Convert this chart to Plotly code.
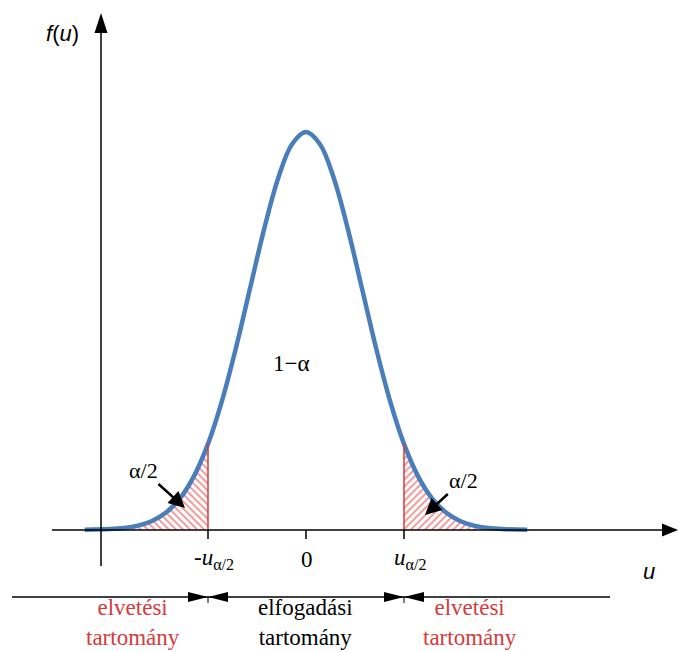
import plotly.graph_objects as go

# ---- data ----
U = [-3.95, -3.5, -3.25, -3.0, -2.75, -2.5, -2.25, -2.0, -1.75, -1.5, -1.25, -1.0,
     -0.75, -0.5, -0.25, 0.0, 0.25, 0.5, 0.75, 1.0, 1.25, 1.5, 1.75, 2.0, 2.25,
     2.5, 2.75, 3.0, 3.25, 3.5, 3.95]
DENSITY = [0.0002, 0.0009, 0.0020, 0.0044, 0.0091, 0.0175, 0.0317, 0.0540, 0.0863,
           0.1295, 0.1826, 0.2420, 0.3011, 0.3521, 0.3867, 0.3989, 0.3867, 0.3521,
           0.3011, 0.2420, 0.1826, 0.1295, 0.0863, 0.0540, 0.0317, 0.0175, 0.0091,
           0.0044, 0.0020, 0.0009, 0.0002]
U_CRIT = 1.75
TICK_POS = [-U_CRIT, 0.0, U_CRIT]
TICK_LABELS = ["-<i>u</i><sub>α/2</sub>", "0", "<i>u</i><sub>α/2</sub>"]
REGION_LABELS = ["elvetési<br>tartomány", "elfogadási<br>tartomány", "elvetési<br>tartomány"]
CENTER_LABEL = "1−α"
TAIL_LABEL = "α/2"

# ---- layout mapping (pixel helpers for decorations) ----
W, H = 678, 652
X0PX, XSCALE = 306.0, 56.0          # pixel of u=0, pixels per unit
Y0PX, YSCALE = 530.0, 997.7          # pixel of f=0, pixels per unit density


def px2x(px):
    return (px - X0PX) / XSCALE


def py2y(py):
    return (Y0PX - py) / YSCALE


BLUE = "#4a7ebb"
RED = "#d63a3a"
SERIF = "Liberation Serif"
SANS = "Liberation Sans"

fig = go.Figure()

# hatched tails
left_u = [u for u in U if u <= -U_CRIT]
left_f = [f for u, f in zip(U, DENSITY) if u <= -U_CRIT]
right_u = [u for u in U if u >= U_CRIT]
right_f = [f for u, f in zip(U, DENSITY) if u >= U_CRIT]
for xs, ys, shp in [(left_u, left_f, "\\"), (right_u, right_f, "/")]:
    fig.add_trace(go.Scatter(
        x=xs, y=ys, mode="lines", line=dict(width=0, shape="spline", color=RED),
        fill="tozeroy", fillcolor="rgba(0,0,0,0)",
        fillpattern=dict(shape=shp, fgcolor="#e03030", bgcolor="white", size=5, solidity=0.4),
        hoverinfo="skip", showlegend=False))

# curve
fig.add_trace(go.Scatter(x=U, y=DENSITY, mode="lines",
                         line=dict(color=BLUE, width=4.5, shape="spline"),
                         showlegend=False, hoverinfo="skip"))

shapes = []
# red cutoff lines
for u in (-U_CRIT, U_CRIT):
    f = DENSITY[U.index(u)]
    shapes.append(dict(type="line", xref="x", yref="y", x0=u, x1=u, y0=0, y1=f,
                       line=dict(color=RED, width=1.5)))
# axes lines
shapes.append(dict(type="line", xref="x", yref="y", x0=px2x(52), x1=px2x(664), y0=0, y1=0,
                   line=dict(color="black", width=1.5)))
shapes.append(dict(type="line", xref="x", yref="y", x0=px2x(101), x1=px2x(101),
                   y0=py2y(566), y1=py2y(30), line=dict(color="black", width=1.5)))
# axis arrowheads
shapes.append(dict(type="path", xref="x", yref="y", xsizemode="pixel", ysizemode="pixel",
                   xanchor=px2x(101), yanchor=py2y(13),
                   path="M 0,0 L -6.5,-20 L 6.5,-20 Z", fillcolor="black", line=dict(width=0)))
shapes.append(dict(type="path", xref="x", yref="y", xsizemode="pixel", ysizemode="pixel",
                   xanchor=px2x(678), yanchor=0,
                   path="M 0,0 L -16,6.5 L -16,-6.5 Z", fillcolor="black", line=dict(width=0)))
# x ticks
for u in TICK_POS:
    shapes.append(dict(type="line", xref="x", yref="y", ysizemode="pixel", yanchor=0,
                       x0=u, x1=u, y0=0, y1=-9, line=dict(color="black", width=1.5)))
# bottom bracket
yb = py2y(597)
shapes.append(dict(type="line", xref="x", yref="y", x0=px2x(12), x1=px2x(610), y0=yb, y1=yb,
                   line=dict(color="black", width=1.3)))
for u in (-U_CRIT, U_CRIT):
    shapes.append(dict(type="path", xref="x", yref="y", xsizemode="pixel", ysizemode="pixel",
                       xanchor=u, yanchor=yb, path="M 0,0 L -20,5 L -20,-5 Z",
                       fillcolor="black", line=dict(width=0)))
    shapes.append(dict(type="path", xref="x", yref="y", xsizemode="pixel", ysizemode="pixel",
                       xanchor=u, yanchor=yb, path="M 0,0 L 20,5 L 20,-5 Z",
                       fillcolor="black", line=dict(width=0)))
    shapes.append(dict(type="line", xref="x", yref="y", ysizemode="pixel", yanchor=yb,
                       x0=u, x1=u, y0=0, y1=-6, line=dict(color="black", width=1)))

ann = []
# axis titles
ann.append(dict(x=px2x(62), y=py2y(33), text="<i>f</i>(<i>u</i>)", showarrow=False,
                font=dict(family=SANS, size=22, color="black")))
ann.append(dict(x=px2x(649), y=py2y(571), text="<i>u</i>", showarrow=False,
                font=dict(family=SANS, size=22, color="black")))
# tick labels
tick_px = [214, 307, 410]
for u, lab, tx in zip(TICK_POS, TICK_LABELS, tick_px):
    ann.append(dict(x=px2x(tx), y=py2y(559), text=lab, showarrow=False,
                    font=dict(family=SERIF, size=23, color="black")))
# center label
ann.append(dict(x=px2x(291), y=py2y(363), text=CENTER_LABEL, showarrow=False,
                font=dict(family=SERIF, size=23, color="black")))
# tail labels with arrows (text at the tail, arrowhead at the hatched area)
ann.append(dict(x=px2x(185), y=py2y(508), ax=143 - 185, ay=470 - 508, text=TAIL_LABEL,
                showarrow=True, arrowhead=2, arrowwidth=2.5, arrowsize=1.3,
                arrowcolor="black", standoff=0, startstandoff=0,
                font=dict(family=SERIF, size=22, color="black")))
ann.append(dict(x=px2x(425), y=py2y(515), ax=463 - 425, ay=480 - 515, text=TAIL_LABEL,
                showarrow=True, arrowhead=2, arrowwidth=2.5, arrowsize=1.3,
                arrowcolor="black", standoff=0, startstandoff=0,
                font=dict(family=SERIF, size=22, color="black")))
# region labels
region_px = [133, 305, 470]
region_col = [RED, "black", RED]
for lab, tx, col in zip(REGION_LABELS, region_px, region_col):
    ann.append(dict(x=px2x(tx), y=py2y(622), text=lab, showarrow=False,
                    font=dict(family=SERIF, size=23, color=col)))

fig.update_layout(
    width=W, height=H, margin=dict(l=0, r=0, t=0, b=0, pad=0),
    paper_bgcolor="white", plot_bgcolor="white",
    xaxis=dict(range=[px2x(0), px2x(W)], visible=False, fixedrange=True),
    yaxis=dict(range=[py2y(H), py2y(0)], visible=False, fixedrange=True),
    shapes=shapes, annotations=ann, showlegend=False,
)

fig.write_html("out.html")
